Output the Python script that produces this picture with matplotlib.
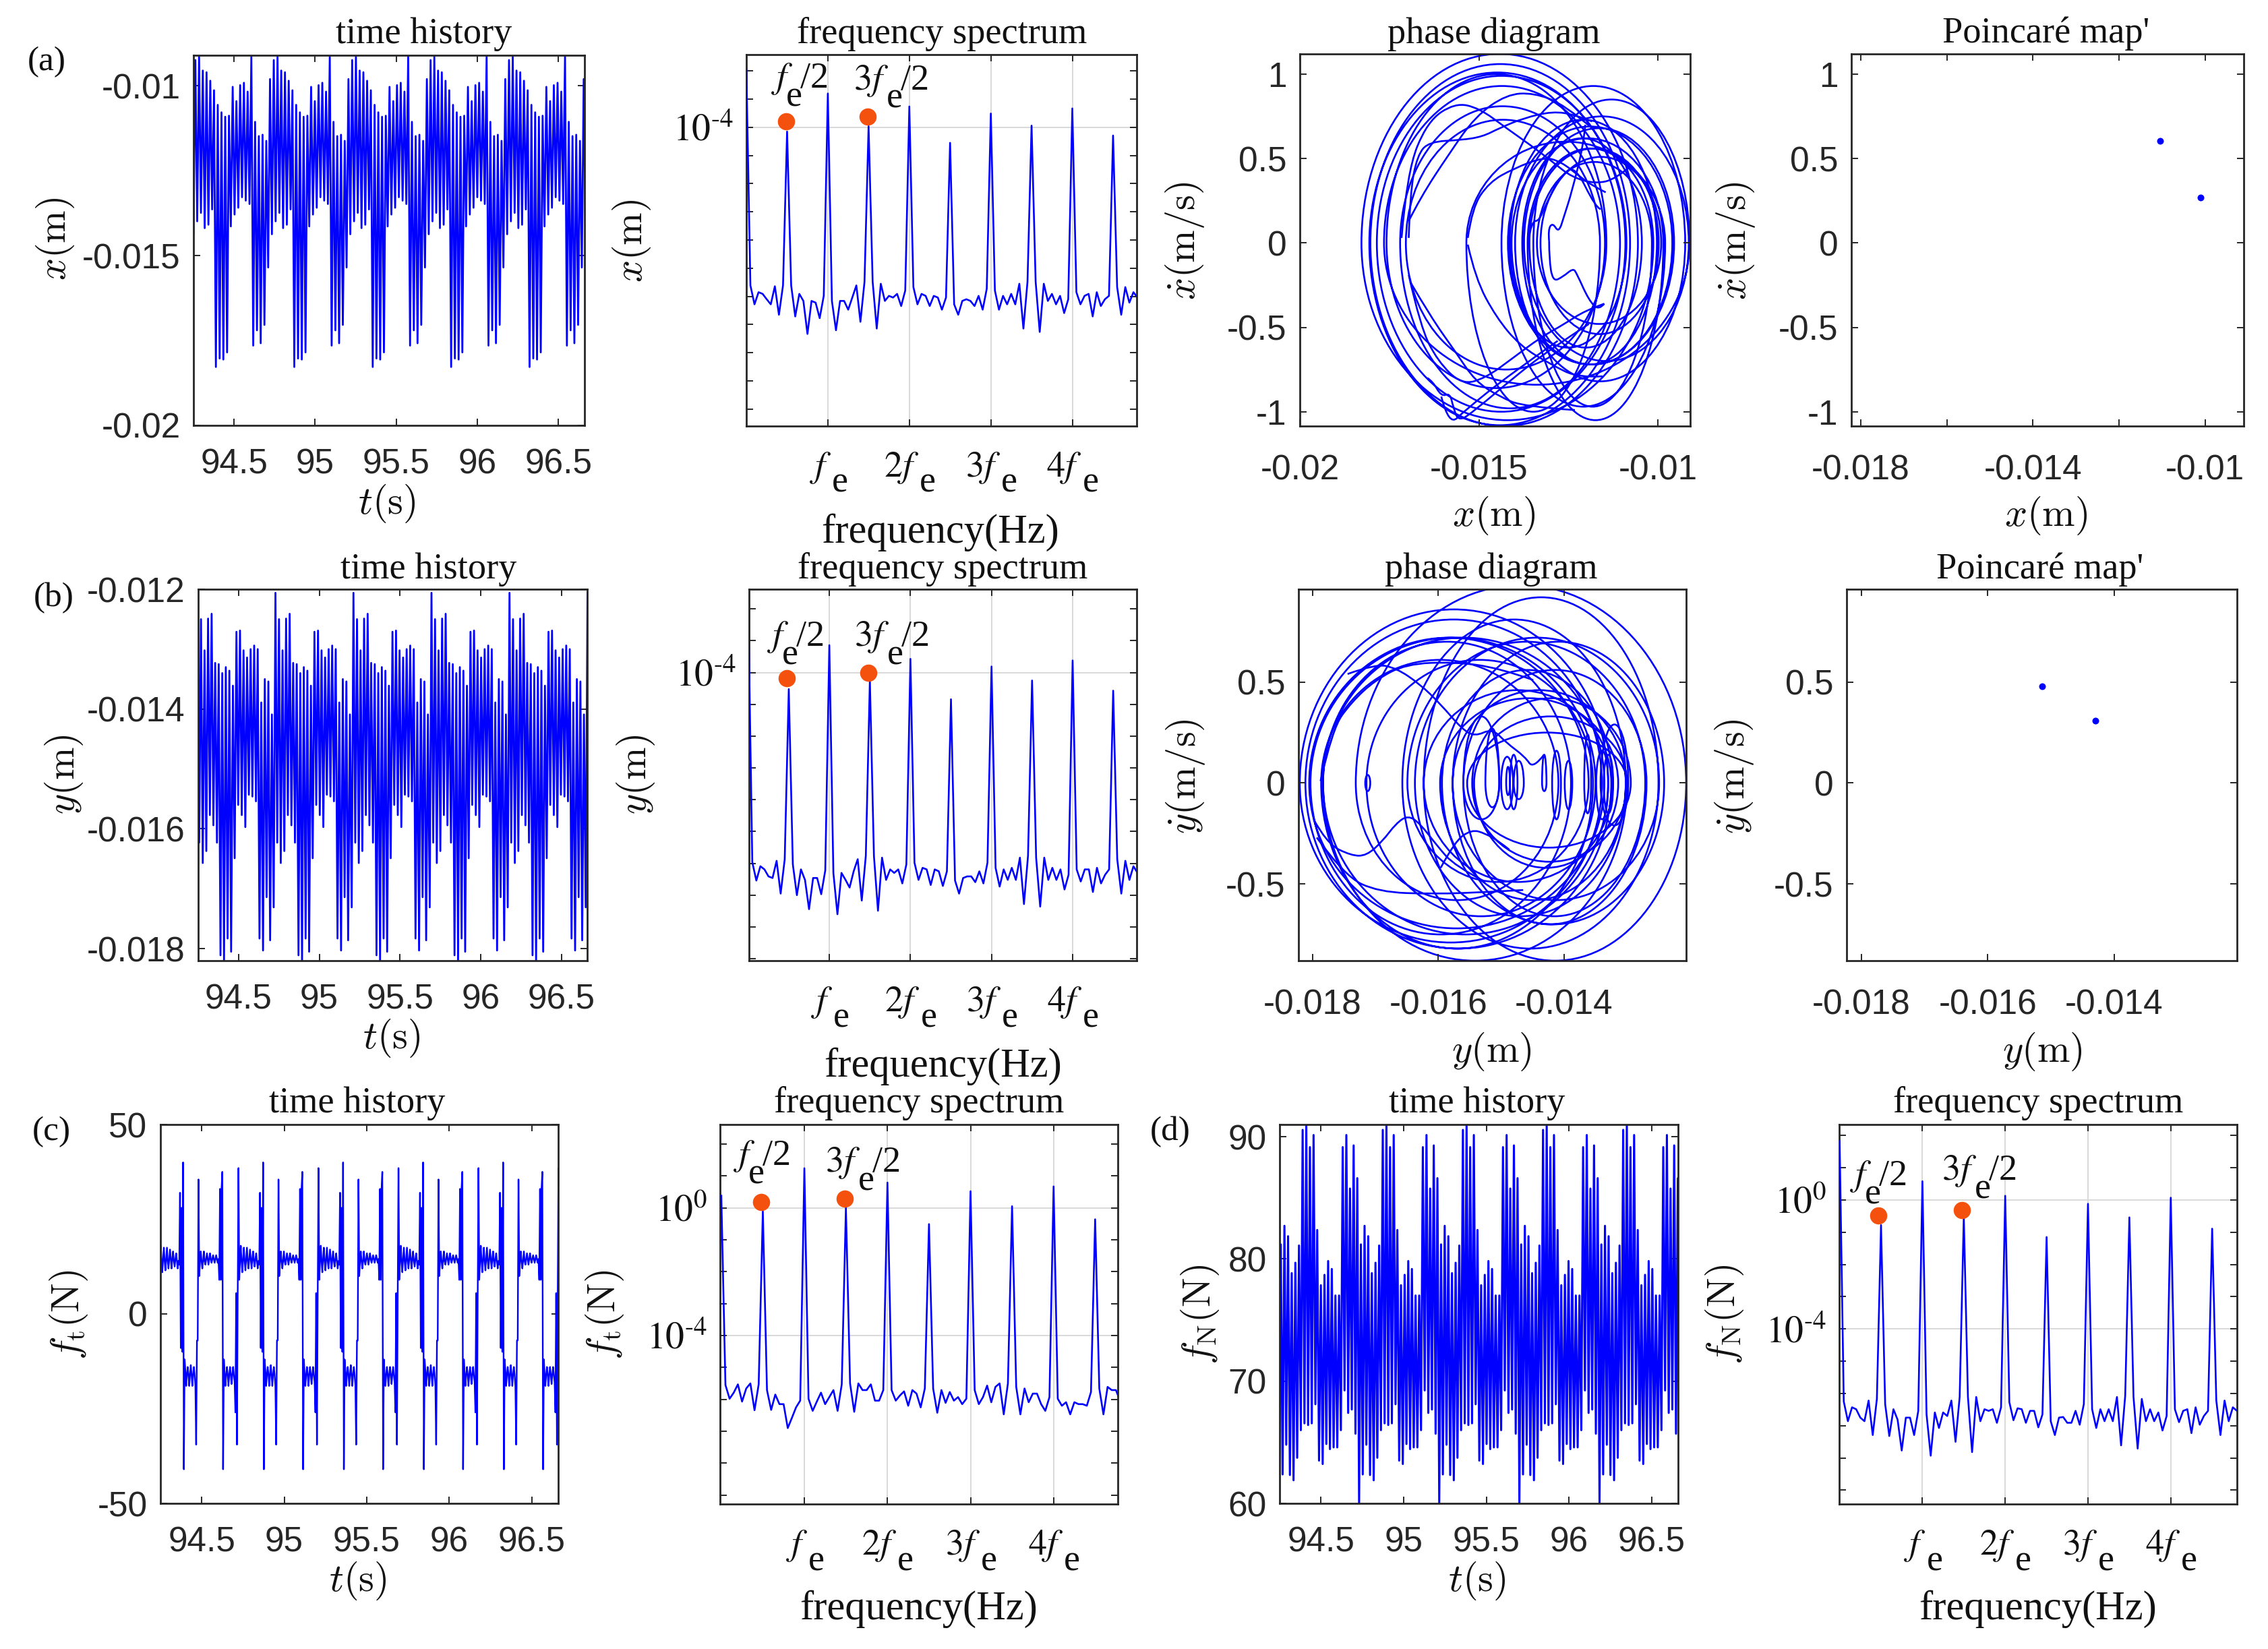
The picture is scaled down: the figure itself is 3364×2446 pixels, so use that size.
import numpy as np
import matplotlib
matplotlib.use("Agg")
import matplotlib.pyplot as plt
from matplotlib.path import Path
from matplotlib.patches import PathPatch
from matplotlib.transforms import ScaledTranslation

W, H = 3364, 2446
plt.rcParams['axes.unicode_minus'] = False
plt.rcParams['font.family'] = 'Liberation Sans'

# ---------- time histories: one repeating cycle, read turn by turn (mm / N) ----------
x_low = [-18.28,-18.03,-18.06,-17.85,-14.14,-13.79,-13.59,-13.28,-13.38,-13.48,-17.65,-17.2,-17.58,-17.04,-15.35,-14.37,-13.99,-13.74,-14.19,-14.09,-13.64]
x_high = [-10.56,-10.78,-10.91,-10.88,-10.03,-10.45,-9.98,-9.91,-10.17,-9.12,-11.06,-11.48,-11.44,-11.62,-9.8,-9.24,-9.14,-9.55,-9.6,-9.85,-10.13]
y_high = [-13.25,-13.4,-13.3,-13.36,-13.61,-12.71,-12.69,-13.02,-13.14,-13.0,-12.94,-13.0,-13.89,-13.5,-13.54,-14.09,-12.06,-12.5,-13.02,-12.49,-12.41,-13.23]
y_low = [-18.11,-18.2,-17.83,-18.05,-16.49,-15.6,-15.77,-15.97,-15.43,-15.46,-15.54,-17.83,-18.03,-17.14,-17.86,-17.31,-16.23,-16.57,-16.37,-15.77,-15.94,-16.23]
fn_low = [60.0,62.37,64.8,62.32,61.89,63.73,65.99,66.55,66.41,66.55,68.11,63.5,63.22,64.86,64.44,64.58,64.58,65.99,69.24,67.4,67.68,65.7]
fn_high = [81.19,82.71,81.86,78.84,79.69,81.1,90.56,90.99,89.15,90.14,82.37,77.85,78.7,79.83,79.18,77.01,77.01,89.15,90.14,85.76,89.29,86.61]
ft_cycle = [32,-9,28,-10,40,-41,
            -12,-15,-19,-16,-14,-16,-19,-16,-13.5,-16,-19,-16,-14,-16,-19,
            -34.5,-7,-7,35.5,
            10,14,16.5,14,12,14,16.5,14,13,14.5,16,14.5,13,14.5,16,14.5,13.5,14.5,15.5,14.5,13.5,14.5,15.5,14.5,13.5,14.5,
            9,33,9,33,37.5,-41,
            -12,-16,-19,-16,-14,-16,-19,-16,-14,-16,-18.5,-16,-14,-16,-18,
            -26,5.5,-34.5,5,38.5,
            9,14,18,14,11,14.5,17.5,14,11.5,14.5,17.5,14,12,14.5,17,14.5,12,14.5,16.5,14,12.5,14.5,16,14,12,14,13]

# cycle length and the time of the first turn, seconds
x_period, x_start = 0.4833, 94.388
y_period, y_start = 0.4833, 94.377
ft_period, ft_start = 0.4847, 94.3685
fn_period, fn_start = 0.4847, 94.246

# ---------- spectra: log10(amplitude) per bin, one bin = fe/20 ----------
sx = [-1.94,-9.61,-10.28,-9.85,-9.91,-10.1,-10.28,-9.64,-10.65,-9.61,-4.15,-9.61,-10.71,-9.91,-10.16,-11.33,-10.16,-10.22,-10.77,-9.98,
      -2.8,-10.16,-11.2,-10.16,-10.16,-10.47,-10.04,-9.61,-10.9,-9.48,-3.96,-9.48,-11.14,-9.55,-10.16,-9.98,-10.04,-9.91,-10.34,-9.79,
      -3.26,-9.67,-10.28,-9.91,-9.98,-10.34,-9.98,-10.04,-10.47,-10.04,-4.55,-10.28,-10.65,-10.16,-10.1,-10.16,-10.34,-9.98,-10.47,-9.73,
      -3.51,-9.79,-10.47,-9.98,-10.28,-9.91,-10.28,-9.55,-11.14,-9.48,-3.94,-9.48,-11.26,-9.55,-10.16,-9.91,-10.28,-9.98,-10.59,-10.1,
      -3.33,-9.85,-10.28,-9.98,-9.91,-10.71,-9.85,-10.34,-10.1,-9.98,-4.29,-9.67,-10.65,-9.67,-10.22,-9.85,-10.04]
sy = [-1.85,-9.96,-10.54,-10.09,-10.19,-10.41,-10.46,-9.92,-10.95,-9.87,-4.52,-10.03,-11.0,-10.19,-10.52,-11.44,-10.46,-10.46,-10.97,-10.22,
      -3.14,-10.3,-11.6,-10.3,-10.52,-10.76,-10.25,-9.87,-11.17,-9.76,-4.25,-9.76,-11.49,-9.82,-10.52,-10.19,-10.3,-10.19,-10.63,-10.03,
      -3.57,-9.98,-10.52,-10.14,-10.19,-10.68,-10.19,-10.25,-10.71,-10.25,-4.84,-10.54,-10.95,-10.46,-10.41,-10.41,-10.59,-10.25,-10.63,-9.98,
      -3.81,-10.14,-10.73,-10.19,-10.52,-10.14,-10.52,-9.82,-11.28,-9.76,-4.25,-9.82,-11.36,-9.82,-10.52,-10.14,-10.52,-10.19,-10.82,-10.36,
      -3.62,-10.19,-10.57,-10.19,-10.19,-10.9,-10.14,-10.63,-10.36,-10.19,-4.57,-9.87,-10.95,-9.92,-10.52,-10.09,-10.3]
sft = [0.38,-5.55,-5.98,-5.79,-5.53,-6.07,-5.66,-5.5,-6.34,-5.53,-0.11,-5.71,-6.33,-5.85,-6.15,-6.15,-6.9,-6.58,-6.25,-6.04,
       1.24,-5.98,-6.36,-6.07,-5.79,-6.15,-5.93,-5.71,-6.36,-5.53,0.0,-5.5,-6.39,-5.5,-5.71,-5.71,-5.53,-6.04,-6.04,-5.71,
       0.79,-5.71,-6.04,-5.88,-5.75,-6.2,-5.71,-5.82,-6.25,-5.66,-0.51,-5.66,-6.42,-5.71,-6.11,-5.77,-6.04,-5.93,-6.15,-5.98,
       0.52,-5.71,-6.15,-5.93,-5.57,-6.09,-5.61,-5.5,-6.47,-5.5,0.05,-5.61,-6.47,-5.66,-6.09,-5.82,-5.82,-6.15,-6.36,-5.93,
       0.67,-5.98,-6.2,-6.09,-6.47,-6.09,-6.15,-6.15,-6.2,-5.77,-0.36,-5.66,-6.47,-5.61,-5.71,-5.71,-6.04]
sfn = [1.83,-6.25,-6.86,-6.43,-6.49,-6.75,-6.86,-6.22,-7.29,-6.17,-0.78,-6.33,-7.32,-6.49,-6.81,-7.77,-6.75,-6.75,-7.29,-6.54,
       0.58,-6.65,-7.93,-6.59,-7.07,-6.59,-6.7,-6.22,-7.5,-6.11,-0.51,-6.11,-7.82,-6.11,-6.86,-6.49,-6.54,-6.49,-6.91,-6.43,
       0.13,-6.27,-6.83,-6.46,-6.49,-6.91,-6.54,-6.54,-7.05,-6.65,-1.15,-6.86,-7.29,-6.75,-6.73,-6.91,-6.91,-6.54,-6.97,-6.33,
       -0.12,-6.49,-7.07,-6.49,-6.86,-6.49,-6.86,-6.11,-7.61,-6.06,-0.54,-6.11,-7.71,-6.17,-6.86,-6.49,-6.86,-6.59,-7.15,-6.7,
       0.07,-6.49,-6.89,-6.54,-6.49,-7.23,-6.43,-6.97,-6.7,-6.54,-0.89,-6.22,-7.29,-6.22,-6.86,-6.43,-6.54]

# (orders of fe, log10 amplitude) of the two marked subharmonics
dots_x = ([0.488, 1.488], [-3.80, -3.62])
dots_y = ([0.476, 1.48], [-4.18, -4.0])
dots_ft = ([0.478, 1.484], [0.19, 0.28])
dots_fn = ([0.47, 1.48], [-0.49, -0.31])

# ---------- phase diagrams: speed peak in every half turn (m/s) ----------
xv_up = [1.12,1.06,1.01,0.99,0.73,0.62,0.56,0.51,0.48,0.85,0.93,0.81,1.0,0.73,0.6,0.93,0.75,0.68,0.69,0.62,0.56]
xv_down = [-1.085,-1.08,-1.0,-0.62,-0.72,-0.62,-0.54,-0.48,-0.97,-0.84,-0.98,-0.86,-0.75,-1.0,-0.97,-0.82,-0.7,-0.72,-0.72,-1.05,-1.05]
yv_up = [0.81,0.86,0.72,0.72,0.70,0.56,0.46,0.42,0.33,0.42,0.25,0.70,0.72,0.61,0.61,0.98,0.92,0.81,0.72,0.70,0.56,0.46]
yv_down = [-0.82,-0.79,-0.75,-0.72,-0.49,-0.66,-0.7,-0.58,-0.42,-0.39,-0.32,-0.88,-0.75,-0.66,-0.82,-0.58,-0.88,-0.82,-0.66,-0.58,-0.7,-0.49]

# small inner loops of y: left x, right x (mm), top, bottom speed
y_inner_left = [-17.16,-15.25,-15.0,-14.92,-14.86,-14.8,-14.35,-14.19,-13.99,-13.68,-13.49,-13.37,-13.42,-15.6]
y_inner_right = [-17.08,-15.03,-14.81,-14.86,-14.74,-14.64,-14.28,-14.05,-13.87,-13.57,-13.3,-13.22,-12.98,-15.03]
y_inner_top = [0.04,0.27,0.13,0.08,0.14,0.11,0.14,0.16,0.11,0.24,0.16,0.14,0.29,0.33]
y_inner_bot = [-0.04,-0.12,-0.13,-0.06,-0.13,-0.08,-0.04,-0.18,-0.13,-0.15,-0.18,-0.15,-0.21,-0.18]

# wavy trajectory arcs read point by point: (x in mm, speed in m/s)
x_arcs = [
    [(-16.96,.03),(-16.92,.30),(-16.72,.52),(-16.39,.60),(-15.48,.61),(-14.9,.63),(-14.43,.68),(-13.75,.74),(-12.94,.78),(-12.32,.76),(-11.84,.72)],
    [(-16.96,.13),(-16.63,.27),(-15.86,.52),(-15.1,.75),(-14.23,.88),(-13.47,.89),(-12.61,.82),(-11.84,.68)],
    [(-17.16,.03),(-17.01,.42),(-16.44,.72),(-15.67,.83),(-15,.80),(-14.23,.68),(-13.56,.58),(-12.94,.48),(-12.41,.39),(-11.74,.35),(-11.17,.38),(-10.74,.46)],
    [(-15.31,.03),(-15.19,.21),(-14.71,.36),(-14.04,.44),(-13.18,.51),(-12.7,.48),(-12.22,.40),(-11.84,.34),(-11.46,.30)],
    [(-15.31,-.01),(-15.1,-.21),(-14.52,-.44),(-13.85,-.61),(-12.99,-.72),(-12.22,-.80),(-11.55,-.79)],
    [(-16.92,-.23),(-16.34,-.44),(-15.67,-.64),(-15.1,-.82),(-14.43,-.91),(-13.75,-.97),(-12.32,-.99)],
    [(-16.96,-.19),(-16.63,-.50),(-16.15,-.70),(-15.48,-.84),(-14.81,-.80),(-14.04,-.68),(-13.28,-.56),(-12.61,-.48),(-12.03,-.40),(-11.5,-.36)],
    [(-16.44,-.80),(-16.29,-.82),(-16.05,-.91),(-15.81,-.89),(-15.72,-.97),(-15.57,-1.06),(-15.1,-.99),(-14.04,-.80),(-13.08,-.64),(-11.93,-.48)],
    [(-16.05,-.91),(-15.84,-1.085),(-15.38,-.99),(-14.14,-.78),(-12.8,-.58)],
    [(-13.04,.01),(-13.07,.08),(-12.94,.12),(-12.77,.06),(-12.62,.16),(-12.41,.30),(-12.08,.58),(-12.03,.70)],
    [(-13.04,.01),(-13.04,-.09),(-12.94,-.23),(-12.65,-.20),(-12.37,-.15),(-12.27,-.18),(-11.93,-.34),(-11.65,-.40),(-11.5,-.36)],
    [(-13.61,.03),(-13.52,.13),(-13.32,.13),(-13.13,.23),(-12.7,.40),(-12.32,.46),(-11.74,.21),(-11.6,.2)],
]
y_arcs = [
    [(-17.44,.54),(-17.0,.59),(-16.67,.57),(-16.29,.49),(-15.96,.39),(-15.63,.27),(-15.42,.23),(-15.14,.27),(-14.92,.2),(-14.62,.13),(-14.49,.07),(-14.32,.14)],
    [(-17.87,.01),(-17.68,.27),(-17.38,.40),(-17.0,.51),(-16.51,.59),(-15.74,.60),(-15.03,.57),(-14.49,.51)],
    [(-17.98,-.18),(-17.77,-.30),(-17.38,-.36),(-17.14,-.36),(-16.89,-.29),(-16.67,-.2),(-16.48,-.16),(-16.29,-.2),(-16.02,-.31),(-15.74,-.41),(-15.25,-.49)],
    [(-15.96,-.42),(-15.74,-.29),(-15.47,-.23),(-15.25,-.25),(-15.03,-.29),(-14.87,-.33)],
    [(-17.93,-.27),(-17.49,-.46),(-16.95,-.54),(-16.07,-.55),(-15.2,-.54),(-14.65,-.53)],
]

# Poincare points
pa_x, pa_v = [-0.01105, -0.01011], [0.605, 0.271]
pb_x, pb_v = [-0.01514, -0.0143], [0.478, 0.31]

time_ticks = [94.5, 95, 95.5, 96, 96.5]
time_labels = ['94.5', '95', '95.5', '96', '96.5']
order_ticks = [1, 2, 3, 4]
order_labels = ['$f$', '$2f$', '$3f$', '$4f$']

BLUE = '#0000ff'
DARK = '#262626'
ORANGE = '#f4510f'
SERIF = 'Liberation Serif'
fig = plt.figure(figsize=(W / 200, H / 200), dpi=200, facecolor='white')


def make_ax(l, r, t, b):
    ax = fig.add_axes([l / W, 1 - b / H, (r - l) / W, (b - t) / H])
    for s in ax.spines.values():
        s.set_linewidth(1.0)
        s.set_color(DARK)
    ax.tick_params(which='major', direction='in', top=True, right=True, length=3.5, width=0.7,
                   color=DARK, labelcolor=DARK, labelsize=18.5)
    ax.tick_params(which='minor', length=0)
    return ax


def text_at(x, y, s, size=19.6, rot=0, fam=SERIF, math='stix', **kw):
    kw.setdefault('ha', 'center')
    kw.setdefault('va', 'center')
    fig.text(x / W, 1 - y / H, s, fontsize=size, rotation=rot, family=fam, color='#111111',
             math_fontfamily=math, **kw)


def labels(title, tpos, xl, xpos, yl, ypos, freq=False):
    text_at(tpos[0], tpos[1] + 4, title, size=19.6)
    if freq:
        text_at(xpos[0], xpos[1] + 4, xl, size=21.8)
    else:
        text_at(*xpos, xl, size=21, math='cm')
    text_at(*ypos, yl, size=21, rot=90, math='cm')


def history(rect, t0, period, seq, ylim, yticks, ylabels, lw=1.0):
    ax = make_ax(*rect)
    n = len(seq)
    reps = 7
    t = t0 - period + np.arange(n * reps) * period / n
    ax.plot(t, np.tile(seq, reps), color=BLUE, lw=lw)
    ax.set_xlim(94.25, 96.66)
    ax.set_ylim(*ylim)
    ax.set_xticks(time_ticks, time_labels)
    ax.set_yticks(yticks, ylabels)
    ax.tick_params(axis='x', pad=12)
    ax.tick_params(axis='y', pad=7)
    return ax


def annot(xl, base, prefix):
    if prefix:
        text_at(xl, base, f'${prefix}f$', size=19.5, ha='left', va='baseline')
        text_at(xl + 49, base + 27, 'e', size=19.5, ha='left', va='baseline')
        text_at(xl + 70, base, '/2', size=19.5, ha='left', va='baseline')
    else:
        text_at(xl, base, '$f$', size=19.5, ha='left', va='baseline')
        text_at(xl + 22, base + 27, 'e', size=19.5, ha='left', va='baseline')
        text_at(xl + 43, base, '/2', size=19.5, ha='left', va='baseline')


def spectrum(rect, sp, xlim, ylim, lab_ticks, lab_text, dots, ann):
    ax = make_ax(*rect)
    exps = np.asarray(sp)
    f = np.arange(len(exps)) * 0.05
    ax.semilogy(f, 10.0 ** exps, color=BLUE, lw=0.95, zorder=3)
    ax.set_xlim(*xlim)
    ax.set_ylim(10.0 ** ylim[0], 10.0 ** ylim[1])
    ax.set_xticks(order_ticks, order_labels)
    decades = np.arange(np.ceil(ylim[0]), np.floor(ylim[1]) + 1)
    ax.set_yticks(10.0 ** decades,
                  [lab_text[lab_ticks.index(d)] if d in lab_ticks else '' for d in decades])
    ax.minorticks_off()
    ax.grid(axis='x', color='#d9d9d9', lw=0.7, zorder=1)
    for d in lab_ticks:
        ax.axhline(10.0 ** d, color='#d9d9d9', lw=0.7, zorder=1)
    for lab in ax.get_yticklabels():
        lab.set_math_fontfamily('stix')
        lab.set_fontsize(20)
        lab.set_color('#111111')
    ax.tick_params(axis='x', pad=13)
    ax.tick_params(axis='y', pad=7)
    for k, lab in enumerate(ax.get_xticklabels()):
        lab.set_math_fontfamily('stix')
        lab.set_fontsize(19.5)
        lab.set_color('#111111')
        lab.set_ha('right')
        shift = 6 if k == 0 else 14
        lab.set_transform(lab.get_transform() + ScaledTranslation(shift / 200, 0, fig.dpi_scale_trans))
        ax.annotate('e', xy=(order_ticks[k], 0), xycoords=('data', 'axes fraction'),
                    xytext=(6 if k == 0 else 15, -98), textcoords='offset pixels',
                    fontsize=19.5, family=SERIF, color='#111111', ha='left', va='baseline')
    ax.plot(dots[0], 10.0 ** np.asarray(dots[1]), 'o', color=ORANGE, ms=9.2, mew=0, zorder=5)
    annot(ann[0], ann[1], '')
    annot(ann[2], ann[3], '3')
    return ax


def quarter(verts, codes, p0, p1, kappa=0.5523):
    """Append one Bezier quarter from p0 to p1: the end with speed 0 has a vertical tangent."""
    if abs(p0[1]) < abs(p1[1]):
        c1 = (p0[0], p0[1] + kappa * (p1[1] - p0[1]))
        c2 = (p1[0] + kappa * (p0[0] - p1[0]), p1[1])
    else:
        c1 = (p0[0] + kappa * (p1[0] - p0[0]), p0[1])
        c2 = (p1[0], p1[1] + kappa * (p0[1] - p1[1]))
    verts += [c1, c2, p1]
    codes += [Path.CURVE4] * 3


def orbit(ax, lefts, rights, ups, downs):
    """Trajectory through the read turning points and speed peaks, as library Bezier paths."""
    verts, codes = [(lefts[0] / 1000, 0.0)], [Path.MOVETO]
    n = len(lefts)
    for i in range(n):
        lf, rg, nx = lefts[i] / 1000, rights[i] / 1000, lefts[(i + 1) % n] / 1000
        top = ((lf + rg) / 2, ups[i])
        bot = ((rg + nx) / 2, downs[i])
        quarter(verts, codes, (lf, 0.0), top)
        quarter(verts, codes, top, (rg, 0.0))
        quarter(verts, codes, (rg, 0.0), bot)
        quarter(verts, codes, bot, (nx, 0.0))
    ax.add_patch(PathPatch(Path(verts, codes), fc='none', ec=BLUE, lw=0.95))


def inner(ax, lefts, rights, tops, bots):
    for lf, rg, tp, bt in zip(lefts, rights, tops, bots):
        orbit(ax, [lf], [rg], [tp], [bt])


def arcs(ax, curves):
    """Read arcs drawn as quadratic Bezier paths, with the read points as control points."""
    for pts in curves:
        p = np.asarray(pts, dtype=float) / [1000.0, 1.0]
        verts, codes = [tuple(p[0])], [Path.MOVETO]
        for a, b in zip(p[1:-1], p[2:]):
            verts += [tuple(a), tuple((a + b) / 2)]
            codes += [Path.CURVE3, Path.CURVE3]
        verts[-1] = tuple(p[-1])
        ax.add_patch(PathPatch(Path(verts, codes), fc='none', ec=BLUE, lw=0.95))


def phase_axes(rect, xlim, ylim, xt, xtl, yt, ytl):
    ax = make_ax(*rect)
    ax.set_xlim(*xlim)
    ax.set_ylim(*ylim)
    ax.set_xticks(xt, xtl)
    ax.set_yticks(yt, ytl)
    ax.tick_params(axis='x', pad=15)
    ax.tick_params(axis='y', pad=7)
    return ax


M = 1000.0
# ---------- row (a) ----------
text_at(69, 92, '(a)', size=18.5)
history((287, 867, 82, 631), x_start, x_period, np.ravel(np.column_stack([x_low, x_high])) / M,
        (-0.02, -0.0091), [-0.02, -0.015, -0.01], ['-0.02', '-0.015', '-0.01'])
labels('time history', (629, 47), r'$t(\mathrm{s})$', (574, 747), r'$x(\mathrm{m})$', (82, 354))
spectrum((1107, 1686, 81, 632), sx, (0, 4.79), (-14.6, -1.42), [-4], [r'$10^{\text{-}4}$'], dots_x,
         (1144, 130, 1266, 133))
labels('frequency spectrum', (1397, 46), 'frequency(Hz)', (1394, 786), r'$x(\mathrm{m})$', (937, 357), freq=True)
ax = phase_axes((1928, 2507, 80, 632), (-0.02, -0.0091), (-1.085, 1.12), [-0.02, -0.015, -0.01],
                ['-0.02', '-0.015', '-0.01'], [-1, -0.5, 0, 0.5, 1], ['-1', '-0.5', '0', '0.5', '1'])
orbit(ax, x_low, x_high, xv_up, xv_down)
arcs(ax, x_arcs)
labels('phase diagram', (2216, 47), r'$x(\mathrm{m})$', (2216, 765), r'$\dot{x}(\mathrm{m/s})$', (1757, 357))
ax = phase_axes((2746, 3328, 80, 632), (-0.01822, -0.0091), (-1.085, 1.12),
                [-0.018, -0.016, -0.014, -0.012, -0.01], ['-0.018', '', '-0.014', '', '-0.01'],
                [-1, -0.5, 0, 0.5, 1], ['-1', '-0.5', '0', '0.5', '1'])
ax.plot(pa_x, pa_v, 'o', color=BLUE, ms=3.6, mew=0)
labels("Poincaré map'", (3035, 46), r'$x(\mathrm{m})$', (3035, 765), r'$\dot{x}(\mathrm{m/s})$', (2574, 357))

# ---------- row (b) ----------
text_at(80, 887, '(b)', size=18.5)
history((294, 871, 874, 1425), y_start, y_period, np.ravel(np.column_stack([y_high, y_low])) / M,
        (-0.0182, -0.012), [-0.018, -0.016, -0.014, -0.012], ['-0.018', '-0.016', '-0.014', '-0.012'])
labels('time history', (636, 841), r'$t(\mathrm{s})$', (581, 1540), r'$y(\mathrm{m})$', (95, 1149))
spectrum((1111, 1686, 874, 1425), sy, (0.01, 4.79), (-13.06, -1.38), [-4], [r'$10^{\text{-}4}$'], dots_y,
         (1138, 958, 1267, 958))
labels('frequency spectrum', (1398, 841), 'frequency(Hz)', (1398, 1578), r'$y(\mathrm{m})$', (943, 1149), freq=True)
ax = phase_axes((1926, 2501, 874, 1425), (-0.01822, -0.01206), (-0.88, 0.96), [-0.018, -0.016, -0.014],
                ['-0.018', '-0.016', '-0.014'], [-0.5, 0, 0.5], ['-0.5', '0', '0.5'])
orbit(ax, y_low, y_high[1:] + y_high[:1], yv_up, yv_down[1:] + yv_down[:1])
inner(ax, y_inner_left, y_inner_right, y_inner_top, y_inner_bot)
arcs(ax, y_arcs)
labels('phase diagram', (2212, 841), r'$y(\mathrm{m})$', (2212, 1560), r'$\dot{y}(\mathrm{m/s})$', (1758, 1152))
ax = phase_axes((2739, 3318, 874, 1425), (-0.01823, -0.01206), (-0.88, 0.96), [-0.018, -0.016, -0.014],
                ['-0.018', '-0.016', '-0.014'], [-0.5, 0, 0.5], ['-0.5', '0', '0.5'])
ax.plot(pb_x, pb_v, 'o', color=BLUE, ms=3.6, mew=0)
labels("Poincaré map'", (3026, 841), r'$y(\mathrm{m})$', (3029, 1560), r'$\dot{y}(\mathrm{m/s})$', (2572, 1152))

# ---------- row (c)/(d) ----------
text_at(76, 1679, '(c)', size=18.5)
history((238, 828, 1668, 2230), ft_start, ft_period, np.asarray(ft_cycle, dtype=float),
        (-50, 50), [-50, 0, 50], ['-50', '0', '50'], lw=0.85)
labels('time history', (530, 1633), r'$t(\mathrm{s})$', (531, 2345), r'$f_{\mathrm{t}}(\mathrm{N})$', (102, 1950))
spectrum((1068, 1658, 1668, 2231), sft, (-0.015, 4.773), (-9.28, 2.61), [-4, 0],
         [r'$10^{\text{-}4}$', r'$10^{0}$'], dots_ft, (1088, 1728, 1224, 1738))
labels('frequency spectrum', (1363, 1633), 'frequency(Hz)', (1363, 2383), r'$f_{\mathrm{t}}(\mathrm{N})$', (897, 1950), freq=True)

text_at(1736, 1679, '(d)', size=18.5)
history((1898, 2489, 1668, 2230), fn_start, fn_period, np.ravel(np.column_stack([fn_low, fn_high])),
        (60, 91), [60, 70, 80, 90], ['60', '70', '80', '90'], lw=1.1)
labels('time history', (2191, 1633), r'$t(\mathrm{s})$', (2191, 2345), r'$f_{\mathrm{N}}(\mathrm{N})$', (1780, 1950))
spectrum((2728, 3318, 1668, 2231), sfn, (-0.005, 4.80), (-9.43, 2.34), [-4, 0],
         [r'$10^{\text{-}4}$', r'$10^{0}$'], dots_fn, (2744, 1758, 2880, 1750))
labels('frequency spectrum', (3023, 1633), 'frequency(Hz)', (3023, 2383), r'$f_{\mathrm{N}}(\mathrm{N})$', (2558, 1950), freq=True)

fig.savefig('out.png', dpi=200, facecolor='white')
